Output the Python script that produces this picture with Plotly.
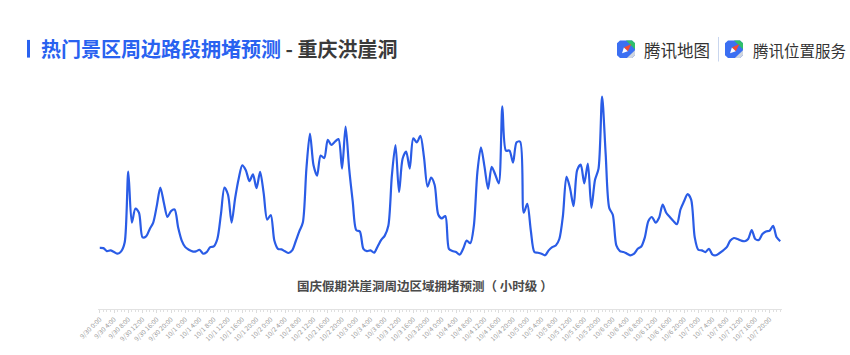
import plotly.graph_objects as go

# ---------------- data ----------------
days = ["9/30", "10/1", "10/2", "10/3", "10/4", "10/5", "10/6", "10/7"]
label_hours = ["0:00", "4:00", "8:00", "12:00", "16:00", "20:00"]

congestion = [
    # 9/30
    11.3, 11, 8, 8.7, 7, 5.3, 7.7, 17, 89, 37, 51.3, 47,
    22, 23, 30.3, 37, 54, 72.7, 57, 42.7, 48.7, 50.3, 32, 18.7,
    # 10/1
    12, 9.3, 7.7, 7.7, 9.3, 5.3, 7, 12, 12.7, 20.3, 45.3, 72.7,
    65.3, 37, 62, 82, 95.3, 90.3, 79.3, 86, 72, 88.7, 67, 40,
    # 10/2
    44.7, 18.7, 10.3, 9.7, 7.7, 6, 8.7, 18, 28, 37, 92, 127.7,
    95.3, 84.7, 105.3, 102.7, 121.3, 116, 119.3, 122, 92, 134.7, 92, 58.7,
    # 10/3
    29.3, 28, 10.3, 8, 8.7, 6.3, 12.7, 19.3, 23.7, 33.7, 85.3, 116,
    68, 102, 109.3, 92, 122.7, 118.7, 125.3, 103.7, 73.7, 82.7, 75.3, 45.3,
    # 10/4
    41.3, 43.7, 10.3, 8, 7, 4.3, 10.3, 18.7, 16, 33.7, 88.7, 113.7,
    93.7, 71.3, 93.7, 86, 77, 155.3, 110.3, 110.3, 98, 118.7, 119.3, 47,
    # 10/5
    56, 28.7, 7, 6.3, 5.3, 3.7, 8.7, 12, 13.7, 20.3, 43.7, 83.7,
    72, 53.7, 90.3, 96, 77, 97, 52, 80.3, 92, 165.3, 107, 52,
    # 10/6
    45, 13.7, 8, 7, 5.3, 3.7, 5.3, 10.3, 12.7, 22, 38.7, 42.7,
    37, 42, 55.3, 47, 42.7, 38.7, 35.3, 50.3, 58.7, 66, 60.3, 22,
    # 10/7
    9.3, 8.7, 7, 10.3, 4.3, 3.7, 6, 8.7, 12, 18.7, 21.3, 20.3,
    18.7, 18, 20.3, 29.3, 20.3, 19.3, 25.3, 28, 28.7, 33.7, 22, 18,
]

hours = list(range(len(congestion)))
tick_vals = list(range(0, len(congestion), 4))
tick_text = [f"{d} {h}" for d in days for h in label_hours]

title_main = "热门景区周边路段拥堵预测"
title_place = " - 重庆洪崖洞"
subtitle = "国庆假期洪崖洞周边区域拥堵预测（ 小时级 ）"
brand_1 = "腾讯地图"
brand_2 = "腾讯位置服务"

# ---------------- layout helpers ----------------
W, H = 850, 355
ML, MR, MT, MB = 98, 68, 90, 42
PW, PH = W - ML - MR, H - MT - MB

def px(x):
    return (x - ML) / PW

def py(y):
    return (H - MB - y) / PH

FONT = "Noto Sans CJK SC"
BLUE = "#2a5ce6"

fig = go.Figure()
fig.add_trace(go.Scatter(
    x=hours, y=congestion, mode="lines",
    line=dict(color=BLUE, width=2.2, shape="spline", smoothing=0.8),
    hoverinfo="skip", showlegend=False,
))

shapes = []
annotations = []

# title bar
shapes.append(dict(type="rect", xref="paper", yref="paper",
                   x0=px(27), x1=px(30), y0=py(57), y1=py(39),
                   fillcolor="#2962f0", line=dict(width=0)))
annotations.append(dict(xref="paper", yref="paper", x=px(39), y=py(48),
                        xanchor="left", yanchor="middle", showarrow=False,
                        text=f"<b><span style='color:#2962f0'>{title_main}</span>"
                             f"<span style='color:#3a3a3a'>{title_place}</span></b>",
                        font=dict(family=FONT, size=20)))

# subtitle
annotations.append(dict(xref="paper", yref="paper", x=px(425), y=py(289),
                        xanchor="center", yanchor="middle", showarrow=False,
                        text=f"<b>{subtitle}</b>",
                        font=dict(family=FONT, size=12.5, color="#4a4a4a")))

# brand icons
def icon(x0, y0, s):
    out = []
    def P(pts):
        return "M " + " L ".join(f"{px(a)},{py(b)}" for a, b in pts) + " Z"
    def add(pts, color):
        out.append(dict(type="path", xref="paper", yref="paper", path=P(pts),
                        fillcolor=color, line=dict(width=0)))
    # blue rounded base
    add([(x0, y0 + 3), (x0 + 3, y0), (x0 + s - 3, y0), (x0 + s, y0 + 3),
         (x0 + s, y0 + s - 3), (x0 + s - 3, y0 + s), (x0 + 3, y0 + s), (x0, y0 + s - 3)],
        "#3b6ff2")
    # green top-right corner
    add([(x0 + s * 0.5, y0), (x0 + s - 3, y0), (x0 + s, y0 + 3), (x0 + s, y0 + s * 0.5)],
        "#2fbf6a")
    # light gray bottom-right corner
    add([(x0 + s, y0 + s * 0.55), (x0 + s, y0 + s - 3), (x0 + s - 3, y0 + s), (x0 + s * 0.55, y0 + s)],
        "#cfd5df")
    # red needle (top-right half)
    add([(x0 + s * 0.8, y0 + s * 0.2), (x0 + s * 0.6, y0 + s * 0.62), (x0 + s * 0.38, y0 + s * 0.4)],
        "#f24b33")
    # white needle (bottom-left half)
    add([(x0 + s * 0.28, y0 + s * 0.72), (x0 + s * 0.6, y0 + s * 0.62), (x0 + s * 0.38, y0 + s * 0.4)],
        "#ffffff")
    return out

shapes += icon(617, 39.5, 18)
shapes += icon(725, 39.5, 18)
shapes.append(dict(type="line", xref="paper", yref="paper",
                   x0=px(718.5), x1=px(718.5), y0=py(61), y1=py(36),
                   line=dict(color="#c9d6ee", width=1)))
annotations.append(dict(xref="paper", yref="paper", x=px(642), y=py(49),
                        xanchor="left", yanchor="middle", showarrow=False,
                        text=brand_1, font=dict(family=FONT, size=16.5, color="#333333")))
annotations.append(dict(xref="paper", yref="paper", x=px(751), y=py(49),
                        xanchor="left", yanchor="middle", showarrow=False,
                        text=brand_2, font=dict(family=FONT, size=15.5, color="#333333")))

fig.update_layout(
    width=W, height=H,
    margin=dict(l=ML, r=MR, t=MT, b=MB),
    paper_bgcolor="white", plot_bgcolor="white",
    shapes=shapes, annotations=annotations,
    showlegend=False,
    xaxis=dict(
        range=[-0.5, len(congestion) - 0.5],
        tickmode="array", tickvals=tick_vals, ticktext=tick_text,
        tickangle=-45, tickfont=dict(family=FONT, size=6.5, color="#9a9a9a"),
        showgrid=False, zeroline=False,
        showline=True, linecolor="#e2e2e2", linewidth=1,
        ticks="outside", ticklen=3, tickcolor="#dcdcdc",
        minor=dict(dtick=1, ticks="outside", ticklen=2, tickcolor="#e0e0e0"),
        fixedrange=True,
    ),
    yaxis=dict(range=[-51, 172], visible=False, fixedrange=True),
)

fig.write_html("out.html")
